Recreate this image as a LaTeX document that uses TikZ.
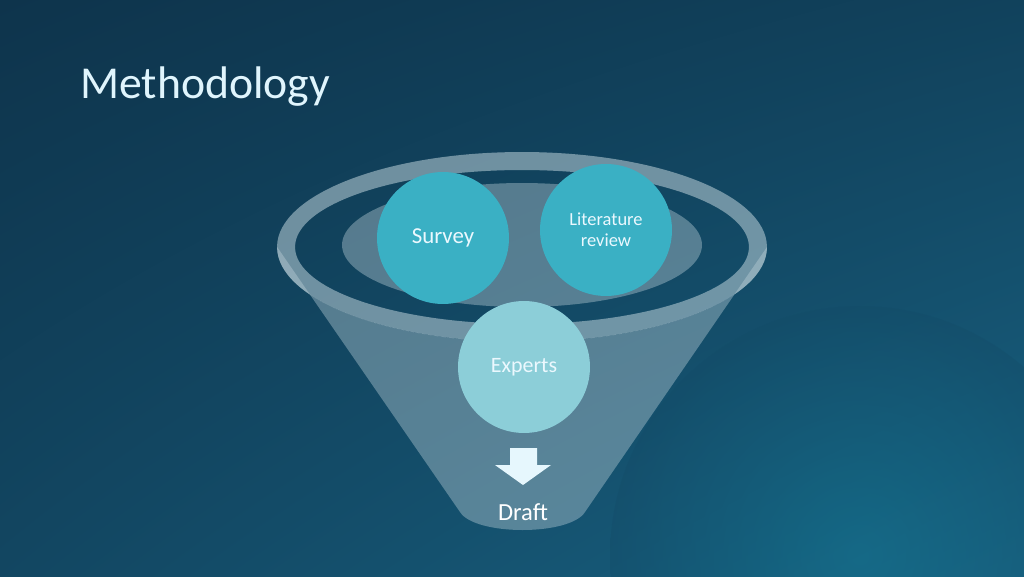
\documentclass[tikz,border=0pt]{standalone}
\usepackage{fontspec}
\setmainfont{Carlito}
\usepackage{tikz}
\usetikzlibrary{positioning,shadings}
\definecolor{bgdark}{RGB}{14,52,76}
\definecolor{bglight}{RGB}{24,98,130}
\definecolor{rimgray}{RGB}{190,210,218}
\definecolor{balltop}{RGB}{58,176,196}
\definecolor{ballpale}{RGB}{140,206,216}

\begin{document}
\begin{tikzpicture}[x=0.02cm, y=0.02cm,
    ball/.style={circle, minimum size=2.64cm, inner sep=0pt, text=white!92!cyan, align=center},
    rim/.style={fill=rimgray, fill opacity=0.55}]
      \useasboundingbox (0,0) rectangle (1024,576);
      \clip (0,0) rectangle (1024,576);
      % background
      \shade[upper left=bgdark, upper right=bgdark!70!bglight, lower left=bgdark!60!bglight, lower right=bglight] (0,0) rectangle (1024,576);
      \shade[inner color=bglight!80!cyan, outer color=bgdark!50!bglight, opacity=0.35] (860,20) circle (5cm);

      \coordinate (C) at (522,329);

      % funnel body and rim
      \fill[rim, fill opacity=0.4] (767,329) arc[start angle=0, end angle=-180, x radius=4.9cm, y radius=1.9cm]
          -- (460,64) .. controls (475,40) and (570,40) .. (585,64) -- cycle;
      \fill[rim, even odd rule] (C) ellipse[x radius=4.9cm, y radius=1.9cm]
          (C) ellipse[x radius=4.54cm, y radius=1.54cm];
      \fill[rim, fill opacity=0.4] (522,331) ellipse[x radius=3.6cm, y radius=1.24cm];

      % circles
      \node[ball, fill=balltop, font=\fontsize{13}{15}\selectfont] (survey) at (443,338) {Survey};
      \node[ball, fill=balltop, font=\fontsize{10.5}{12}\selectfont] (lit) at (606,346) {Literature\\review};
      \node[ball, fill=ballpale, font=\fontsize{12.5}{15}\selectfont] (experts) at (524,209) {Experts};

      % arrow and result
      \fill[white!90!cyan] (510,128) -- (537,128) -- (537,111) -- (551,111) -- (523,91)
          -- (495,111) -- (510,111) -- cycle;
      \node[text=white, font=\fontsize{14}{16}\selectfont] (draft) at (523,64) {Draft};

      \node[anchor=west, text=white!88!cyan, font=\fontsize{26}{30}\selectfont] (title) at (74,489) {Methodology};
\end{tikzpicture}
\end{document}
